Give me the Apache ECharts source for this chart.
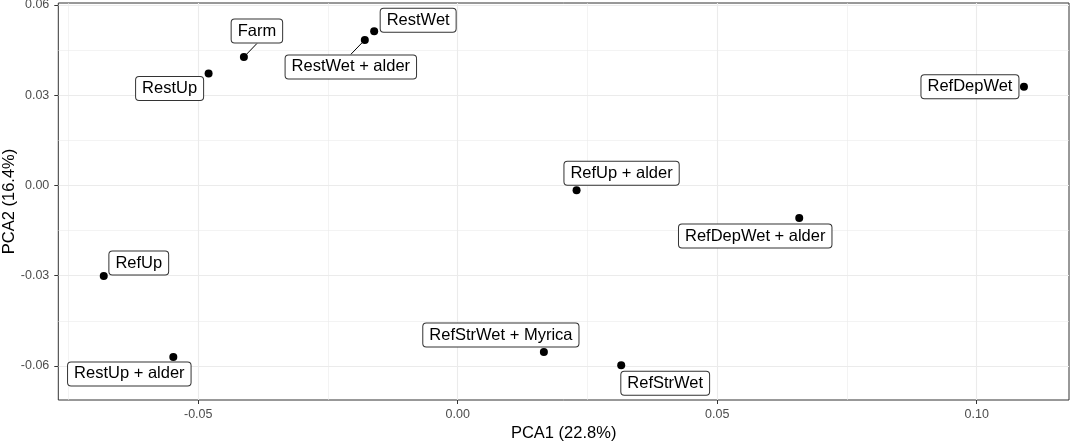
<!DOCTYPE html>
<html>
<head>
<meta charset="utf-8">
<title>PCA</title>
<script src="https://cdn.jsdelivr.net/npm/echarts@6/dist/echarts.min.js"></script>
<style>
  html, body { margin: 0; padding: 0; background: #fff; }
  #chart { width: 1072px; height: 442px; }
</style>
</head>
<body>
<div id="chart"></div>
<script>
// 数据
const siteNames = ["Farm", "RestUp", "RestWet + alder", "RestWet", "RefUp", "RestUp + alder",
  "RefUp + alder", "RefDepWet + alder", "RefStrWet + Myrica", "RefStrWet", "RefDepWet"];
const pca1 = [-0.0412, -0.0480, -0.0179, -0.0161, -0.0682, -0.0548, 0.0229, 0.0658, 0.0166, 0.0315, 0.1091];
const pca2 = [0.0427, 0.0372, 0.0484, 0.0513, -0.0301, -0.0570, -0.0016, -0.0108, -0.0554, -0.0598, 0.0328];

// 刻度
const xTicks = [-0.05, 0, 0.05, 0.10];
const xMinor = [-0.075, -0.025, 0.025, 0.075];
const yTicks = [-0.06, -0.03, 0, 0.03, 0.06];
const yMinor = [-0.045, -0.015, 0.015, 0.045];

// 标签位置（像素偏移，仿 ggrepel）
const labelDx = [13, -39, -14, 44, 35, -44, 45, -44, -43, 44, -54];
const labelDy = [-26, 15, 27, -11, -13, 17, -17, 18, -17, 18, 0];
const leaderLine = [true, false, true, false, false, false, false, false, false, false, false];

const FONT = "Liberation Sans, Arial, sans-serif";

let points = siteNames.map(function (name, i) {
  return {
    name: name,
    value: [pca1[i], pca2[i]],
    labelLine: { show: leaderLine[i] }
  };
});

function fmt(v) {
  return Number(v).toFixed(2);
}

let chart = echarts.init(document.getElementById("chart"), null, { renderer: "canvas" });

chart.setOption({
  animation: false,
  backgroundColor: "#fff",
  textStyle: { fontFamily: FONT },
  grid: {
    left: 58.3, right: 3, top: 3, bottom: 42,
    containLabel: false,
    outerBoundsMode: "none",
    show: true, borderColor: "#333", borderWidth: 1, backgroundColor: "transparent"
  },
  xAxis: [{
    type: "value",
    min: -0.07696, max: 0.11778,
    name: "PCA1 (22.8%)",
    nameLocation: "middle",
    nameGap: 25,
    nameMoveOverlap: false,
    nameTextStyle: { color: "#000", fontSize: 16.5, fontFamily: FONT },
    axisLine: { show: false, onZero: false },
    axisTick: { show: true, length: 4, customValues: xTicks, lineStyle: { color: "#333" } },
    axisLabel: { customValues: xTicks, formatter: fmt, color: "#4D4D4D", fontSize: 12.5, margin: 8, fontFamily: FONT },
    splitLine: { show: true, lineStyle: { color: "#EBEBEB", width: 1.1 } }
  }, {
    type: "value",
    min: -0.07696, max: 0.11778,
    axisLine: { show: false, onZero: false },
    axisTick: { show: false, customValues: xMinor },
    axisLabel: { show: false, customValues: xMinor },
    splitLine: { show: true, lineStyle: { color: "#EBEBEB", width: 0.6 } }
  }],
  yAxis: [{
    type: "value",
    min: -0.07132, max: 0.06066,
    name: "PCA2 (16.4%)",
    nameLocation: "middle",
    nameGap: 40,
    nameMoveOverlap: false,
    nameTextStyle: { color: "#000", fontSize: 16.5, fontFamily: FONT },
    axisLine: { show: false, onZero: false },
    axisTick: { show: true, length: 4, customValues: yTicks, lineStyle: { color: "#333" } },
    axisLabel: { customValues: yTicks, formatter: fmt, color: "#4D4D4D", fontSize: 12.5, margin: 9, fontFamily: FONT },
    splitLine: { show: true, lineStyle: { color: "#EBEBEB", width: 1.1 } }
  }, {
    type: "value",
    min: -0.07132, max: 0.06066,
    axisLine: { show: false, onZero: false },
    axisTick: { show: false, customValues: yMinor },
    axisLabel: { show: false, customValues: yMinor },
    splitLine: { show: true, lineStyle: { color: "#EBEBEB", width: 0.6 } }
  }],
  series: [{
    type: "scatter",
    xAxisIndex: 0,
    yAxisIndex: 0,
    symbolSize: 8,
    itemStyle: { color: "#000", opacity: 1 },
    data: points,
    label: {
      show: true,
      position: "inside",
      formatter: "{b}",
      color: "#000",
      fontSize: 16.5,
      fontFamily: FONT,
      lineHeight: 17,
      backgroundColor: "#fff",
      borderColor: "#333",
      borderWidth: 1,
      borderRadius: 3,
      padding: [3, 6, 3, 6]
    },
    labelLine: {
      show: false,
      lineStyle: { color: "#000", width: 1 }
    },
    labelLayout: function (params) {
      return { dx: labelDx[params.dataIndex], dy: labelDy[params.dataIndex] };
    },
    emphasis: { disabled: true }
  }]
});
</script>
</body>
</html>
